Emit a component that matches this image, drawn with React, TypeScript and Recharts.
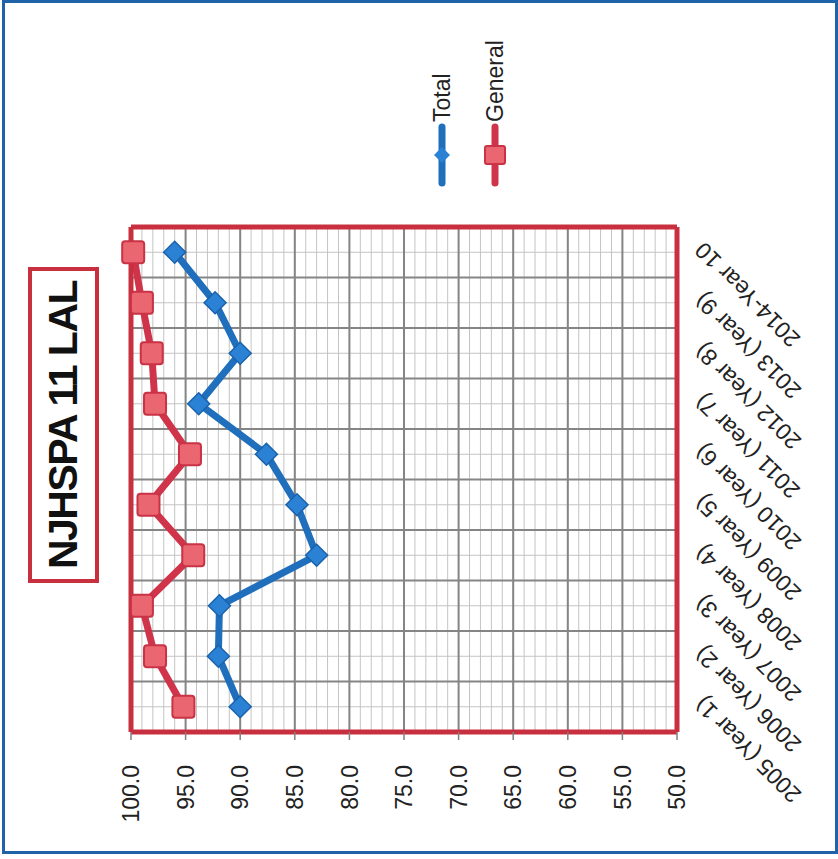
import { CartesianGrid, Legend, Line, LineChart, XAxis, YAxis } from "recharts"

// the chart is drawn upright and then turned a quarter turn, like the scanned sheet
const years = [
    "2005 (Year 1)",
    "2006 (Year 2)",
    "2007 (Year 3)",
    "2008 (Year 4)",
    "2009 (Year 5)",
    "2010 (Year 6)",
    "2011 (Year 7)",
    "2012 (Year 8)",
    "2013 (Year 9)",
    "2014-Year 10",
]
const totalScores = [90.0, 92.0, 91.9, 83.0, 84.8, 87.6, 93.8, 90.0, 92.3, 96.0]
const generalScores = [95.2, 97.8, 99.0, 94.3, 98.4, 94.6, 97.8, 98.1, 99.0, 99.8]
const majorTicks = [50, 55, 60, 65, 70, 75, 80, 85, 90, 95, 100]
const minorTicks = [
    50, 51, 52, 53, 54, 55, 56, 57, 58, 59, 60, 61, 62, 63, 64, 65, 66, 67, 68, 69, 70,
    71, 72, 73, 74, 75, 76, 77, 78, 79, 80, 81, 82, 83, 84, 85, 86, 87, 88, 89, 90,
    91, 92, 93, 94, 95, 96, 97, 98, 99, 100,
]
const legendOrder = ["Total", "General"]

const data = years.map((year, i) => ({
    year,
    Total: totalScores[i],
    General: generalScores[i],
}))

const BLUE = "#1f6fbc"
const RED = "#d0344a"
const FRAME = "#c9303f"
const FONT = "'Liberation Sans', Arial, sans-serif"

function DiamondDot(props: any) {
    const { cx, cy, index } = props
    if (cx == null || cy == null) return null
    const r = 11
    return (
        <path
            key={`d${index}`}
            d={`M${cx},${cy - r}L${cx + r},${cy}L${cx},${cy + r}L${cx - r},${cy}Z`}
            fill="#2b82d4"
            stroke="#1a62ac"
            strokeWidth={1.5}
        />
    )
}

function SquareDot(props: any) {
    const { cx, cy, index } = props
    if (cx == null || cy == null) return null
    const s = 22
    return (
        <rect
            key={`s${index}`}
            x={cx - s / 2}
            y={cy - s / 2}
            width={s}
            height={s}
            rx={3}
            fill="#ea6670"
            stroke="#c93345"
            strokeWidth={2}
        />
    )
}

function LegendContent({ payload }: any) {
    const items = [...(payload || [])].sort(
        (a: any, b: any) => legendOrder.indexOf(a.value) - legendOrder.indexOf(b.value)
    )
    return (
        <div>
            {items.map((entry: any, i: number) => (
                <div
                    key={entry.value}
                    style={{ display: "flex", alignItems: "center", height: 30, marginBottom: i === 0 ? 23 : 0 }}
                >
                    <svg width={64} height={30}>
                        <line x1={4} y1={15} x2={60} y2={15} stroke={entry.color} strokeWidth={7} strokeLinecap="round" />
                        {entry.value === "Total" ? (
                            <path d="M32,7L40,15L32,23L24,15Z" fill="#2b82d4" />
                        ) : (
                            <rect x={23} y={5} width={18} height={20} rx={2} fill="#ea6670" stroke="#c93345" strokeWidth={2} />
                        )}
                    </svg>
                    <span style={{ fontSize: 23, fontFamily: FONT, color: "#222", marginLeft: 1 }}>{entry.value}</span>
                </div>
            ))}
        </div>
    )
}

// major vertical grid lines sit on the category band edges
function bandEdges({ offset }: any) {
    const step = offset.width / years.length
    return [...years.map((_, i) => offset.left + i * step), offset.left + offset.width]
}

// minor value grid, one line per point of score
function minorRows({ yAxis, offset }: any) {
    const s = yAxis?.scale
    if (typeof s === "function") return minorTicks.map((t) => s(t))
    if (s && typeof s.map === "function") return minorTicks.map((t) => s.map(t))
    return minorTicks.map((t) => offset.top + ((100 - t) / 50) * offset.height)
}

export default function App() {
    return (
        <div style={{ position: "absolute", left: 0, top: 0, width: 838, height: 859, background: "#fff", fontFamily: FONT }}>
            <div
                style={{
                    position: "absolute",
                    left: 0,
                    top: 0,
                    width: 859,
                    height: 838,
                    transformOrigin: "0 0",
                    transform: "translateY(859px) rotate(-90deg)",
                }}
            >
                <div
                    style={{
                        position: "absolute",
                        left: 276,
                        top: 28,
                        width: 316,
                        height: 71,
                        border: `4px solid ${FRAME}`,
                        boxSizing: "border-box",
                        display: "flex",
                        alignItems: "center",
                        justifyContent: "center",
                        fontSize: 41,
                        fontWeight: "bold",
                        letterSpacing: -1.5,
                        color: "#111",
                        background: "#fff",
                    }}
                >
                    NJHSPA 11 LAL
                </div>
                <LineChart
                    width={859}
                    height={838}
                    data={data}
                    margin={{ top: 130, right: 226, bottom: 41, left: 20 }}
                >
                    <CartesianGrid stroke="#c4c4c4" strokeWidth={1} horizontalCoordinatesGenerator={minorRows} />
                    <CartesianGrid stroke="#858585" strokeWidth={2} verticalCoordinatesGenerator={bandEdges} />
                    <XAxis
                        dataKey="year"
                        scale="band"
                        interval={0}
                        height={120}
                        angle={-45}
                        textAnchor="end"
                        tickLine={false}
                        tickMargin={10}
                        axisLine={{ stroke: FRAME, strokeWidth: 5 }}
                        tick={{ fontSize: 23, fill: "#222", fontFamily: FONT }}
                    />
                    <XAxis
                        xAxisId="top"
                        orientation="top"
                        dataKey="year"
                        scale="band"
                        height={1}
                        tick={false}
                        tickLine={false}
                        axisLine={{ stroke: FRAME, strokeWidth: 5 }}
                    />
                    <YAxis
                        domain={[50, 100]}
                        ticks={majorTicks}
                        interval={0}
                        width={107}
                        tickSize={8}
                        tickMargin={25}
                        tickFormatter={(v: number) => v.toFixed(1)}
                        tickLine={{ stroke: "#808080", strokeWidth: 1.5 }}
                        axisLine={{ stroke: FRAME, strokeWidth: 5 }}
                        tick={{ fontSize: 23, fill: "#222", fontFamily: FONT }}
                    />
                    <YAxis
                        yAxisId="right"
                        orientation="right"
                        domain={[50, 100]}
                        width={1}
                        tick={false}
                        tickLine={false}
                        axisLine={{ stroke: FRAME, strokeWidth: 5 }}
                    />
                    <Legend
                        layout="vertical"
                        align="center"
                        verticalAlign="middle"
                        content={<LegendContent />}
                        wrapperStyle={{ left: 672, top: 427, width: "auto" }}
                    />
                    <Line
                        dataKey="Total"
                        stroke={BLUE}
                        strokeWidth={7}
                        dot={<DiamondDot />}
                        activeDot={false}
                        isAnimationActive={false}
                    />
                    <Line
                        dataKey="General"
                        stroke={RED}
                        strokeWidth={7}
                        dot={<SquareDot />}
                        activeDot={false}
                        isAnimationActive={false}
                    />
                </LineChart>
            </div>
            <div
                style={{
                    position: "absolute",
                    left: 2,
                    top: 0,
                    width: 836,
                    height: 854,
                    border: "3px solid #1f64a8",
                    boxSizing: "border-box",
                    pointerEvents: "none",
                }}
            />
        </div>
    )
}
